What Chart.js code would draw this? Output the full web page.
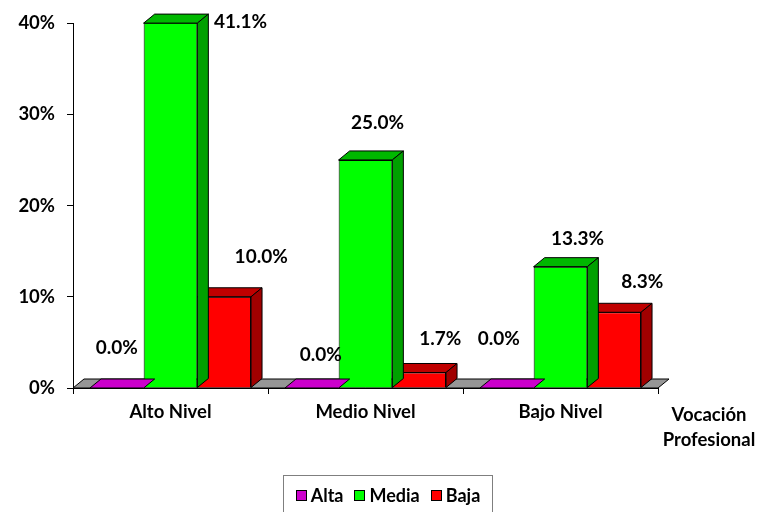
<!DOCTYPE html>
<html>
<head>
<meta charset="utf-8">
<script src="https://cdn.jsdelivr.net/npm/chart.js@4/dist/chart.umd.min.js"></script>
<style>
  body { margin: 0; background: #fff; }
  #wrap { position: relative; width: 762px; height: 512px; }
  #legend {
    position: absolute; left: 283px; top: 475px; width: 210px; height: 45px;
    border: 1px solid #7f7f7f; box-sizing: border-box;
    font: bold 18px Lato, sans-serif; color: #000;
    display: flex; align-items: flex-start; justify-content: center; padding-top: 8px; gap: 11px;
  }
  #legend span.item { display: inline-flex; align-items: center; }
  #legend span.box { width: 9px; height: 9px; border: 1px solid #000; margin-right: 4px; display: inline-block; }
</style>
</head>
<body>
<div id="wrap">
  <canvas id="chart" width="762" height="512"></canvas>
  <div id="legend"></div>
</div>
<script>
const CATEGORIES = ['Alto Nivel', 'Medio Nivel', 'Bajo Nivel'];
const SERIES = ['Alta', 'Media', 'Baja'];
const ALTA = [0.0, 0.0, 0.0];
const MEDIA = [41.1, 25.0, 13.3];
const BAJA = [10.0, 1.7, 8.3];
const Y_MAX = 40;
const AXIS_TITLE = ['Vocación', 'Profesional'];

const FRONT = ['#cc00cc', '#00ff00', '#ff0000'];
const TOPC  = ['#cc00cc', '#00b800', '#c00000'];
const SIDE  = ['#a000a0', '#00a000', '#a00000'];
const DX = 11, DY = 9;
// label offset from bar centre / top, per series per category
const LABEL_OFF = [
  [[0, -40], [9, -33], [-8, -49]],
  [[70, -1], [12, -37], [17, -28]],
  [[37, -40], [21, -34], [28, -30]],
];
const FONT = 'Lato, sans-serif';

function poly(ctx, pts, fill) {
  ctx.beginPath();
  ctx.moveTo(pts[0][0], pts[0][1]);
  for (let k = 1; k < pts.length; k++) ctx.lineTo(pts[k][0], pts[k][1]);
  ctx.closePath();
  ctx.fillStyle = fill;
  ctx.fill();
  ctx.stroke();
}

const bar3d = {
  id: 'bar3d',
  beforeDatasetsDraw(chart) {
    const { ctx, chartArea: a } = chart;
    ctx.save();
    ctx.strokeStyle = '#000';
    ctx.lineWidth = 1;
    poly(ctx, [[a.left, a.bottom], [a.right, a.bottom], [a.right + DX, a.bottom - DY], [a.left + DX, a.bottom - DY]], '#969696');
    ctx.restore();
  },
  afterDatasetDraw(chart, args) {
    const { ctx, chartArea: a } = chart;
    const i = args.index;
    ctx.save();
    ctx.strokeStyle = '#000';
    ctx.lineWidth = 1;
    args.meta.data.forEach(el => {
      const { x, y, base, width } = el.getProps(['x', 'y', 'base', 'width'], true);
      const l = x - width / 2, r = x + width / 2;
      const t = Math.max(y, a.top);
      if (base - t > 0) {
        ctx.beginPath();
        ctx.moveTo(l, t); ctx.lineTo(r, t);
        ctx.stroke();
      }
      poly(ctx, [[l, t], [r, t], [r + DX, t - DY], [l + DX, t - DY]], TOPC[i]);
      if (base - t > 0) poly(ctx, [[r, t], [r + DX, t - DY], [r + DX, base - DY], [r, base]], SIDE[i]);
    });
    ctx.restore();
  },
  afterDraw(chart) {
    const { ctx, chartArea: a } = chart;
    ctx.save();
    ctx.fillStyle = '#000';
    ctx.textAlign = 'center';
    ctx.textBaseline = 'middle';
    ctx.font = 'bold 19px ' + FONT;
    chart.data.datasets.forEach((ds, i) => {
      chart.getDatasetMeta(i).data.forEach((el, j) => {
        const t = Math.max(el.y, a.top);
        const off = LABEL_OFF[i][j];
        ctx.fillText(ds.data[j].toFixed(1) + '%', el.x + off[0], t + off[1]);
      });
    });
    ctx.font = 'bold 18.5px ' + FONT;
    ctx.fillText(AXIS_TITLE[0], a.right + 51, a.bottom + 27);
    ctx.fillText(AXIS_TITLE[1], a.right + 51, a.bottom + 52);
    ctx.restore();
  }
};

const values = [ALTA, MEDIA, BAJA];
new Chart(document.getElementById('chart'), {
  type: 'bar',
  data: {
    labels: CATEGORIES,
    datasets: SERIES.map((s, i) => ({
      label: s,
      data: values[i],
      backgroundColor: FRONT[i],
      borderColor: '#000',
      borderWidth: 1,
      clip: 0,
      categoryPercentage: 0.826,
      barPercentage: 1,
    })),
  },
  options: {
    responsive: false,
    animation: false,
    layout: { padding: { top: 20, right: 104, left: 0, bottom: 0 } },
    plugins: { legend: { display: false }, tooltip: { enabled: false } },
    scales: {
      x: {
        grid: { drawOnChartArea: false, tickLength: 6, color: '#000' },
        border: { color: '#000' },
        ticks: { color: '#000', font: { family: FONT, size: 18.5, weight: 'bold' }, padding: 7 },
        afterFit: s => { s.height = 124; },
      },
      y: {
        min: 0, max: Y_MAX,
        grid: { drawOnChartArea: false, tickLength: 6, color: '#000' },
        border: { color: '#000' },
        ticks: { stepSize: 10, color: '#000', padding: 12, font: { family: FONT, size: 18.5, weight: 'bold' }, callback: v => v + '%' },
        afterFit: s => { s.width = 73; },
      },
    },
  },
  plugins: [bar3d],
});

document.getElementById('legend').innerHTML = SERIES.map((s, i) =>
  `<span class="item"><span class="box" style="background:${FRONT[i]}"></span>${s}</span>`).join('');
</script>
</body>
</html>
